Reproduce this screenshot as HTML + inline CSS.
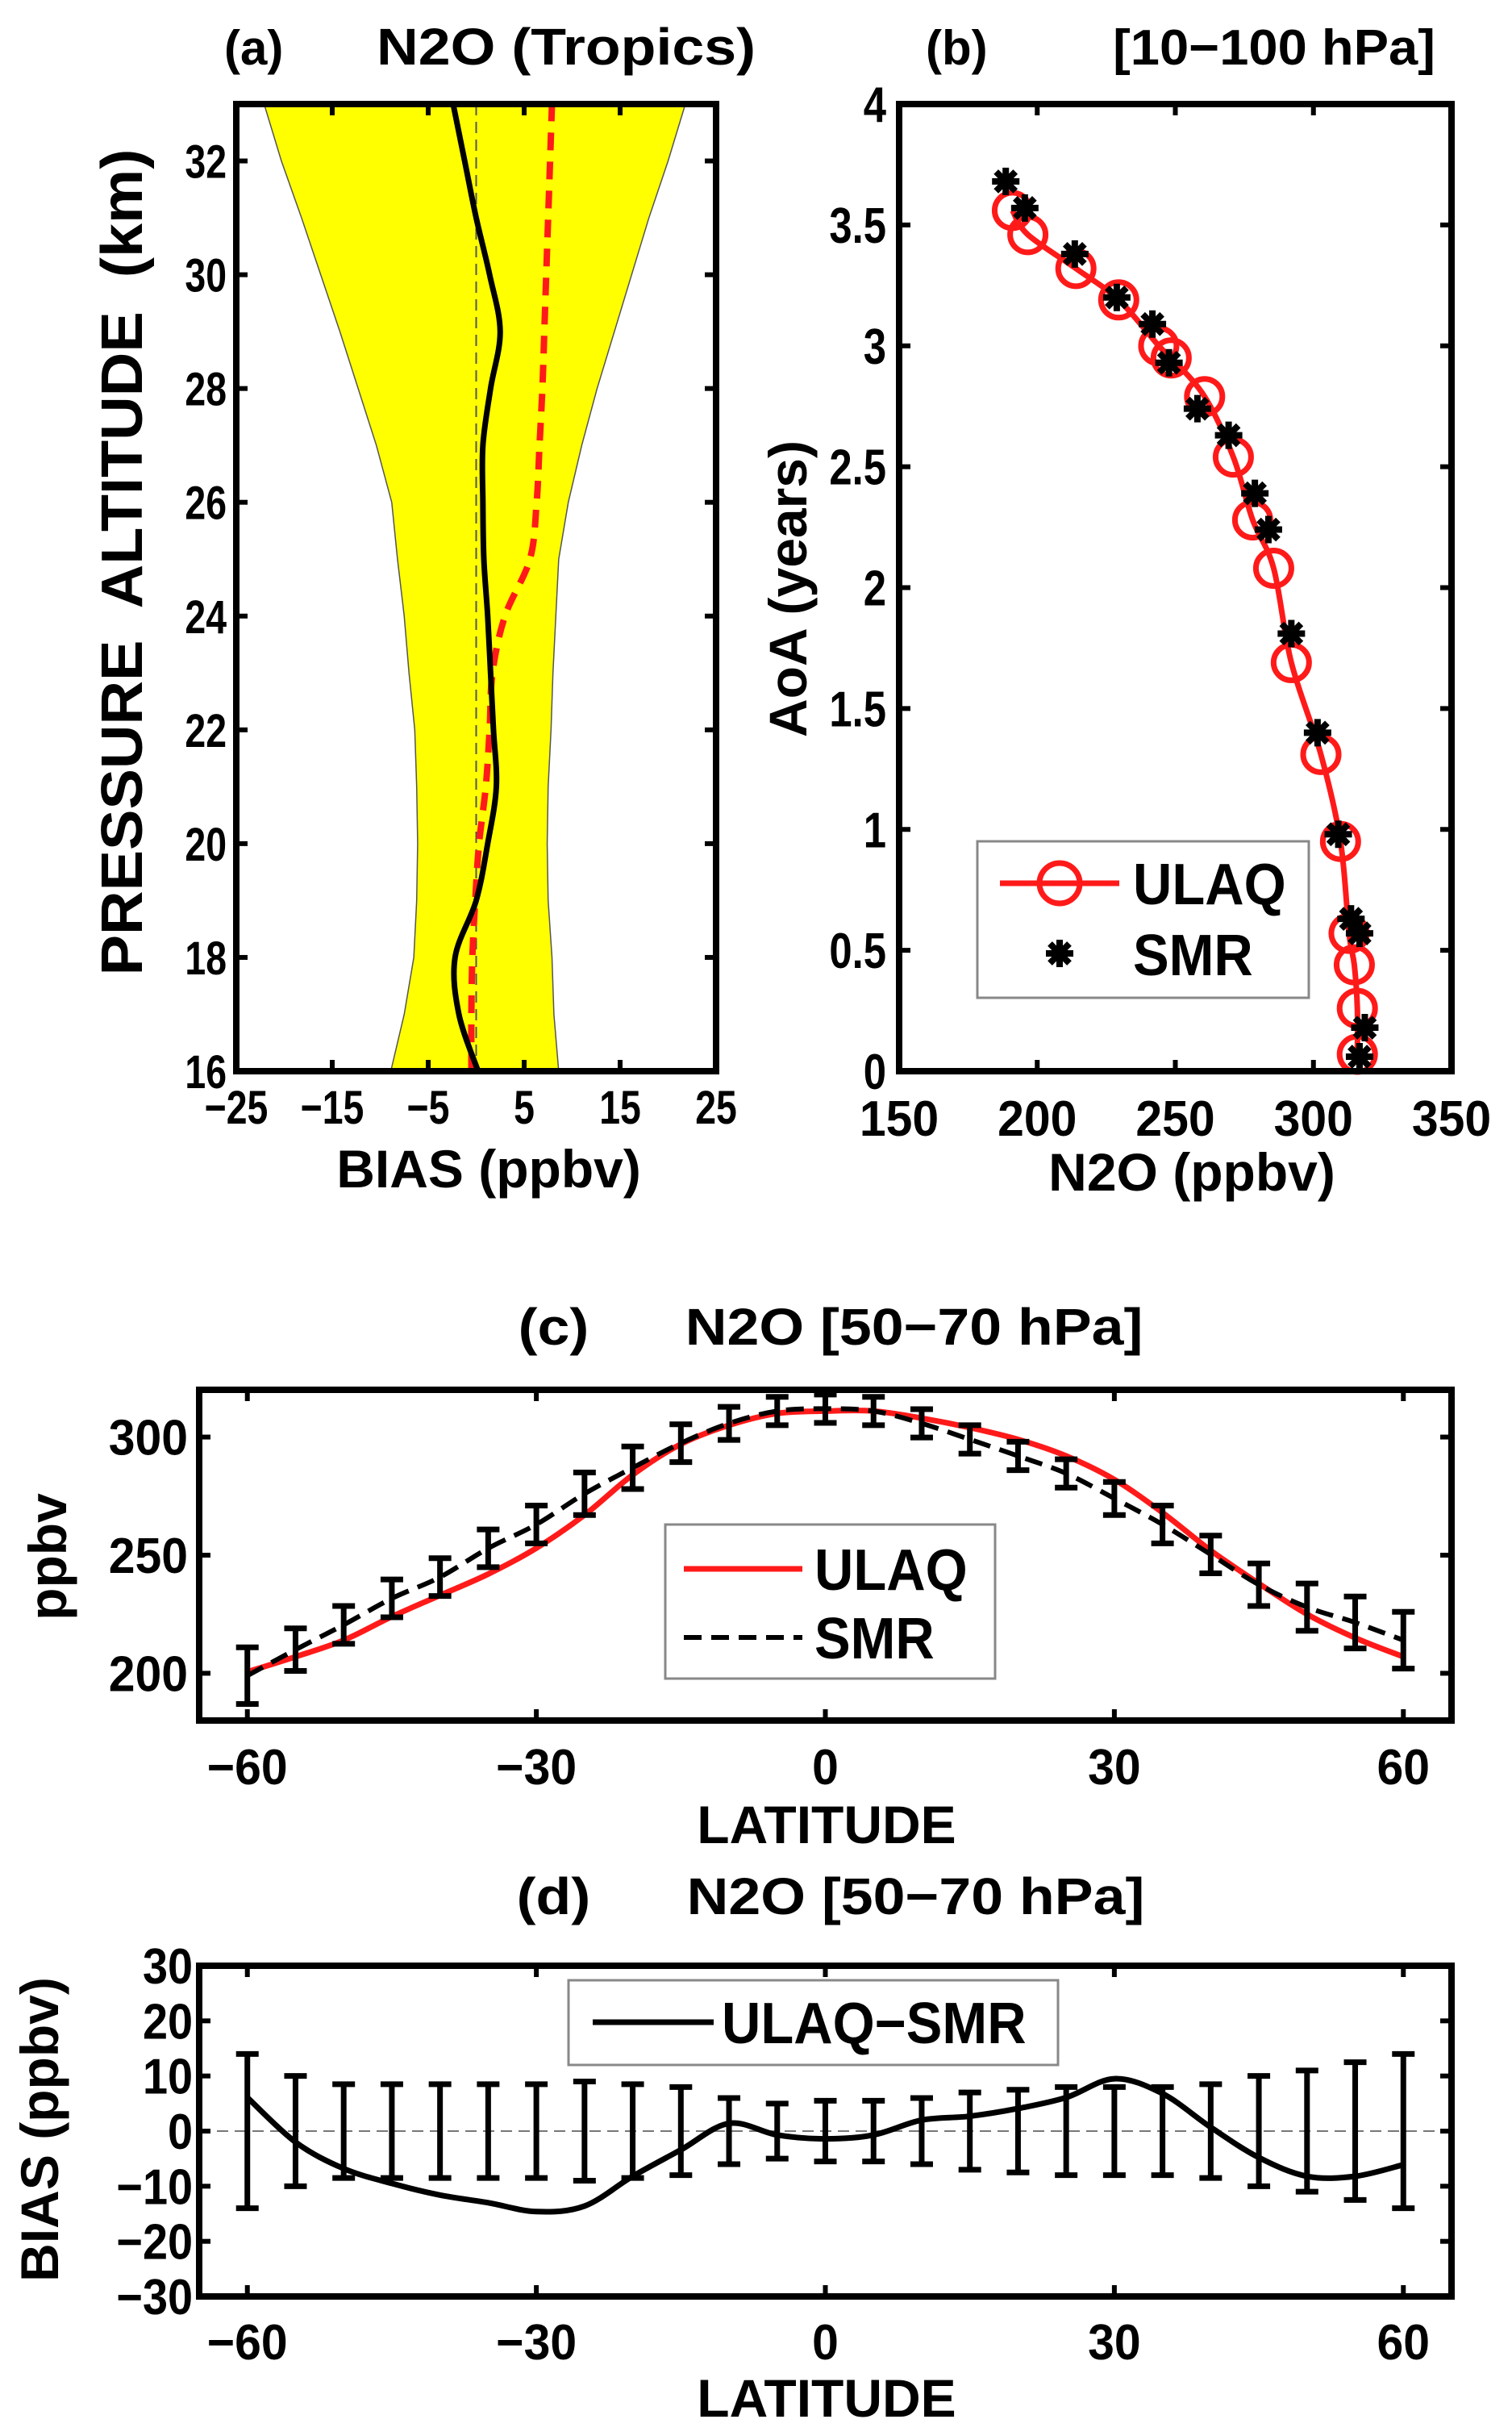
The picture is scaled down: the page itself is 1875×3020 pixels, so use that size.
<!DOCTYPE html>
<html><head><meta charset="utf-8"><style>
html,body{margin:0;padding:0;background:#fff;}
svg{display:block;font-family:"Liberation Sans",Arial,sans-serif;font-weight:bold;}
</style></head><body>
<svg id="fig" width="1875" height="3020" viewBox="0 0 1875 3020" xmlns="http://www.w3.org/2000/svg"></svg>
<script>
// ---------- Panel (a) data ----------
const altA = [16,17,18,19,20,21,22,23,24,25,26,27,28,29,30,31,32,33];
const biasUlaqSmr = [0.2,-1.8,-2.2,0.0,1.2,2.1,1.8,1.5,1.2,0.8,0.7,0.7,1.5,2.5,1.4,0.0,-1.2,-2.4];
const biasRed = [-0.5,-0.5,-0.4,-0.1,0.3,1.0,1.4,1.7,3.0,5.6,6.3,6.6,6.9,7.1,7.3,7.5,7.7,7.9];
const envLow = [-8.9,-7.5,-6.5,-6.2,-6.1,-6.2,-6.4,-7.0,-7.5,-8.2,-8.8,-10.4,-12.3,-14.2,-16.2,-18.2,-20.3,-22.1];
const envHigh = [8.6,8.1,7.9,7.5,7.4,7.5,7.8,8.0,8.3,8.6,9.6,11.0,12.6,14.4,16.2,18.0,20.0,21.8];
const ticksAx = [-25,-15,-5,5,15,25];
const ticksAy = [16,18,20,22,24,26,28,30,32];
// ---------- Panel (b) data ----------
const ulaqN2O = [191,196.6,214,229.5,244,248.5,260.6,271,278,285.6,292,302.7,309.8,312.9,314.8,315.9,315.9];
const ulaqAoA = [3.56,3.46,3.32,3.19,3.0,2.95,2.79,2.54,2.28,2.08,1.69,1.31,0.95,0.57,0.44,0.26,0.07];
const smrN2O = [188.6,195.5,213.6,228.8,241.7,247.7,258,269.3,278.8,283.7,292,301.5,309,313.6,316.7,318.6,316.7];
const smrAoA = [3.68,3.57,3.38,3.2,3.09,2.93,2.74,2.63,2.39,2.24,1.81,1.40,0.98,0.63,0.57,0.18,0.06];
const ticksBx = [150,200,250,300,350];
const ticksBy = [0,0.5,1,1.5,2,2.5,3,3.5,4];
// ---------- Panel (c) data ----------
const lats = [-60,-55,-50,-45,-40,-35,-30,-25,-20,-15,-10,-5,0,5,10,15,20,25,30,35,40,45,50,55,60];
const smrC = [199,210,220.5,231.7,240.7,252.9,263,276,287,297.4,305.8,311,312,311,305.8,299,292,284.6,274,263,250.3,237.5,228,221.5,214];
const smrErr = [12,9,8,8,8,8,8,9,9,8,7,6,6,6,6,6,6,6,7,8,8,9,10,11,12];
const ulaqC = [200.6,207,214,224,233,242,253,267,284,297,305,310,311,311,308,304,299,292,282,268,252,238,225,215,207];
const ticksCx = [-60,-30,0,30,60];
const ticksCy = [200,250,300];
// ---------- Panel (d) data ----------
const biasD = [6.1,-2,-6.8,-9.5,-11.6,-13,-14.6,-13.6,-8.2,-3.4,1.4,-0.7,-1.4,-0.7,2,2.7,4.1,6.1,9.5,6.8,0.7,-4.8,-8.2,-8.2,-6.1];
const errD = [14,10,8.5,8.5,8.5,8.5,8.5,9,8.5,8,6,5,5.5,5.5,6,7,7.5,8,8,8,8.5,10,11,12.5,14];
const ticksDy = [-30,-20,-10,0,10,20,30];

const NS = "http://www.w3.org/2000/svg";
const svg = document.getElementById('fig');
function el(tag, attrs, parent){
  const e = document.createElementNS(NS, tag);
  for (const k in attrs) e.setAttribute(k, attrs[k]);
  (parent||svg).appendChild(e);
  return e;
}
function txt(x,y,s,anchor,size,sx,parent,rot){
  const g = document.createElementNS(NS,'g');
  let tr = `translate(${x},${y})`;
  if (rot) tr += ` rotate(${rot})`;
  tr += ` scale(${sx},1)`;
  g.setAttribute('transform', tr);
  (parent||svg).appendChild(g);
  const t = document.createElementNS(NS,'text');
  t.setAttribute('text-anchor', anchor);
  t.setAttribute('font-size', size);
  t.setAttribute('fill', '#000');
  t.style.whiteSpace = 'pre';
  t.textContent = s;
  g.appendChild(t);
  return g;
}
function lin(d0,d1,p0,p1){ return v => p0 + (v-d0)/(d1-d0)*(p1-p0); }
function smoothPath(pts){
  let d = `M${pts[0][0]},${pts[0][1]}`;
  for (let i=0;i<pts.length-1;i++){
    const p0 = pts[Math.max(0,i-1)], p1 = pts[i], p2 = pts[i+1], p3 = pts[Math.min(pts.length-1,i+2)];
    const c1x = p1[0]+(p2[0]-p0[0])/6, c1y = p1[1]+(p2[1]-p0[1])/6;
    const c2x = p2[0]-(p3[0]-p1[0])/6, c2y = p2[1]-(p3[1]-p1[1])/6;
    d += ` C${c1x},${c1y} ${c2x},${c2y} ${p2[0]},${p2[1]}`;
  }
  return d;
}
function fmt(v){ return (v<0?'\u2212':'') + Math.abs(v); }
function axesBox(g,L,T,R,B,xt,yt,X,Y,tlen){
  xt.forEach(v=>{
    const x = X(v);
    const t1 = el('line',{x1:x,y1:B,x2:x,y2:B-tlen,stroke:'#000','stroke-width':6},g);
    
    
    el('line',{x1:x,y1:T,x2:x,y2:T+tlen,stroke:'#000','stroke-width':6},g);
  });
  yt.forEach(v=>{
    const y = Y(v);
    const t1 = el('line',{x1:L,y1:y,x2:L+tlen,y2:y,stroke:'#000','stroke-width':6},g);
    
    
    el('line',{x1:R,y1:y,x2:R-tlen,y2:y,stroke:'#000','stroke-width':6},g);
  });
  const box = el('rect',{x:L,y:T,width:R-L,height:B-T,fill:'none',stroke:'#000','stroke-width':8},g);
  
  
}

// ================= Panel (a) =================
(function(){
  const L=293,T=129,R=888,B=1328;
  const X = lin(-25,25,L,R), Y = lin(16,33,B,T);
  const g = el('g',{});
  
  
  let d = '';
  altA.forEach((a,i)=>{ d += (i?'L':'M') + X(envLow[i]) + ',' + Y(a); });
  for (let i=altA.length-1;i>=0;i--) d += 'L' + X(envHigh[i]) + ',' + Y(altA[i]);
  const env = el('path',{d:d+'Z',fill:'#ffff00',stroke:'#555','stroke-width':1.5},g);
  
  
  const zl = el('line',{x1:X(0),y1:T,x2:X(0),y2:B,stroke:'#555','stroke-width':2,'stroke-dasharray':'14,8'},g);
  
  
  const rp = el('path',{d:smoothPath(altA.map((a,i)=>[X(biasRed[i]),Y(a)])),fill:'none',stroke:'#ff1a1a','stroke-width':8,'stroke-dasharray':'22,14'},g);
  
  
  const bp = el('path',{d:smoothPath(altA.map((a,i)=>[X(biasUlaqSmr[i]),Y(a)])),fill:'none',stroke:'#000','stroke-width':7},g);
  
  
  axesBox(g,L,T,R,B,ticksAx,ticksAy,X,Y,14);
  ticksAx.forEach(v=>{ const t=txt(X(v),1393,fmt(v),'middle',58,0.8,g);   });
  ticksAy.forEach(v=>{ const t=txt(L-12,Y(v)+21,String(v),'end',58,0.8,g);   });
  let t = txt(606,1472,'BIAS (ppbv)','middle',66,1.0,g);
  
  
  t = txt(176,697,'PRESSURE  ALTITUDE  (km)','middle',72,1.05,g,-90);
  
  
  t = txt(278,80,'(a)','start',60,1.0,g);
  
  
  t = txt(702,80,'N2O (Tropics)','middle',64,1.12,g);
  
  
})();

// ================= Panel (b) =================
(function(){
  const L=1115,T=129,R=1800,B=1328;
  const X = lin(150,350,L,R), Y = lin(0,4,B,T);
  const g = el('g',{});
  
  
  const pts = ulaqN2O.map((v,i)=>[X(v),Y(ulaqAoA[i])]);
  const ln = el('path',{d:smoothPath(pts),fill:'none',stroke:'#ff1a1a','stroke-width':7},g);
  
  
  pts.forEach(p=>{
    const c = el('circle',{cx:p[0],cy:p[1],r:22,fill:'none',stroke:'#ff1a1a','stroke-width':7},g);
    
    
  });
  function star(x,y,parent){
    const s = el('g',{},parent);
    
    
    for (let k=0;k<4;k++){
      const a = k*Math.PI/4;
      el('line',{x1:x-17*Math.cos(a),y1:y-17*Math.sin(a),x2:x+17*Math.cos(a),y2:y+17*Math.sin(a),stroke:'#000','stroke-width':8},s);
    }
  }
  smrN2O.forEach((v,i)=>star(X(v),Y(smrAoA[i]),g));
  axesBox(g,L,T,R,B,ticksBx,ticksBy,X,Y,14);
  ticksBx.forEach(v=>{ const t=txt(X(v),1408,String(v),'middle',62,0.95,g);   });
  ticksBy.forEach(v=>{ const t=txt(L-16,Y(v)+22,String(v),'end',62,0.82,g);   });
  let t = txt(1478,1476,'N2O (ppbv)','middle',66,1.0,g);
  
  
  t = txt(1000,730,'AoA (years)','middle',66,1.0,g,-90);
  
  
  t = txt(1148,80,'(b)','start',60,1.0,g);
  
  
  t = txt(1580,80,'[10\u2212100 hPa]','middle',62,1.05,g);
  
  
  const lg = el('g',{},g);
  
  
  el('rect',{x:1212,y:1043,width:411,height:194,fill:'#fff',stroke:'#888','stroke-width':3},lg);
  el('line',{x1:1240,y1:1095,x2:1388,y2:1095,stroke:'#ff1a1a','stroke-width':7},lg);
  el('circle',{cx:1314,cy:1095,r:25,fill:'none',stroke:'#ff1a1a','stroke-width':7},lg);
  txt(1405,1121,'ULAQ','start',72,0.93,lg);
  star(1314,1182,lg);
  txt(1405,1209,'SMR','start',72,0.93,lg);
})();

// ================= Panel (c) =================
(function(){
  const L=247,T=1723,R=1800,B=2133;
  const X = lin(-65,65,L,R), Y = lin(180,320,B,T);
  const g = el('g',{});
  
  
  const cp = el('clipPath',{id:'clipc'},g);
  el('rect',{x:L,y:T,width:R-L,height:B-T},cp);
  const inner = el('g',{'clip-path':'url(#clipc)'},g);
  const ul = el('path',{d:smoothPath(lats.map((v,i)=>[X(v),Y(ulaqC[i])])),fill:'none',stroke:'#ff1a1a','stroke-width':7},inner);
  
  
  const sl = el('path',{d:smoothPath(lats.map((v,i)=>[X(v),Y(smrC[i])])),fill:'none',stroke:'#000','stroke-width':6,'stroke-dasharray':'22,12'},inner);
  
  
  lats.forEach((v,i)=>{
    const x = X(v), y1 = Y(smrC[i]+smrErr[i]), y2 = Y(smrC[i]-smrErr[i]);
    const e = el('path',{d:`M${x},${y1}V${y2}M${x-14},${y1}H${x+14}M${x-14},${y2}H${x+14}`,stroke:'#000','stroke-width':7,fill:'none'},inner);
    
    
  });
  axesBox(g,L,T,R,B,ticksCx,ticksCy,X,Y,14);
  ticksCx.forEach(v=>{ const t=txt(X(v),2212,fmt(v),'middle',62,0.95,g);   });
  ticksCy.forEach(v=>{ const t=txt(L-14,Y(v)+22,String(v),'end',62,0.95,g);   });
  let t = txt(1025,2285,'LATITUDE','middle',66,1.0,g);
  
  
  t = txt(82,1930,'ppbv','middle',66,1.0,g,-90);
  
  
  t = txt(1030,1667,'(c)      N2O [50\u221270 hPa]','middle',64,1.12,g);
  
  
  const lg = el('g',{},g);
  
  
  el('rect',{x:825,y:1890,width:409,height:191,fill:'#fff',stroke:'#888','stroke-width':3},lg);
  el('line',{x1:848,y1:1945,x2:995,y2:1945,stroke:'#ff1a1a','stroke-width':7},lg);
  txt(1010,1971,'ULAQ','start',72,0.93,lg);
  el('line',{x1:848,y1:2030,x2:995,y2:2030,stroke:'#000','stroke-width':6,'stroke-dasharray':'22,12'},lg);
  txt(1010,2056,'SMR','start',72,0.93,lg);
})();

// ================= Panel (d) =================
(function(){
  const L=247,T=2437,R=1800,B=2847;
  const X = lin(-65,65,L,R), Y = lin(-30,30,B,T);
  const g = el('g',{});
  
  
  const zl = el('line',{x1:L,y1:Y(0),x2:R,y2:Y(0),stroke:'#777','stroke-width':2,'stroke-dasharray':'14,8'},g);
  
  
  lats.forEach((v,i)=>{
    const x = X(v), y1 = Y(errD[i]), y2 = Y(-errD[i]);
    const e = el('path',{d:`M${x},${y1}V${y2}M${x-14},${y1}H${x+14}M${x-14},${y2}H${x+14}`,stroke:'#000','stroke-width':7,fill:'none'},g);
    
    
  });
  const bl = el('path',{d:smoothPath(lats.map((v,i)=>[X(v),Y(biasD[i])])),fill:'none',stroke:'#000','stroke-width':7},g);
  
  
  axesBox(g,L,T,R,B,ticksCx,ticksDy,X,Y,14);
  ticksCx.forEach(v=>{ const t=txt(X(v),2925,fmt(v),'middle',62,0.95,g);   });
  ticksDy.forEach(v=>{ const t=txt(L-8,Y(v)+22,fmt(v),'end',62,0.9,g);   });
  let t = txt(1025,2996,'LATITUDE','middle',66,1.0,g);
  
  
  t = txt(72,2640,'BIAS (ppbv)','middle',66,1.0,g,-90);
  
  
  t = txt(1030,2373,'(d)      N2O [50\u221270 hPa]','middle',64,1.12,g);
  
  
  const lg = el('g',{},g);
  
  
  el('rect',{x:705,y:2455,width:607,height:105,fill:'#fff',stroke:'#888','stroke-width':3},lg);
  el('line',{x1:735,y1:2507,x2:885,y2:2507,stroke:'#000','stroke-width':7},lg);
  txt(895,2533,'ULAQ\u2212SMR','start',72,0.93,lg);
})();
</script>
</body></html>
